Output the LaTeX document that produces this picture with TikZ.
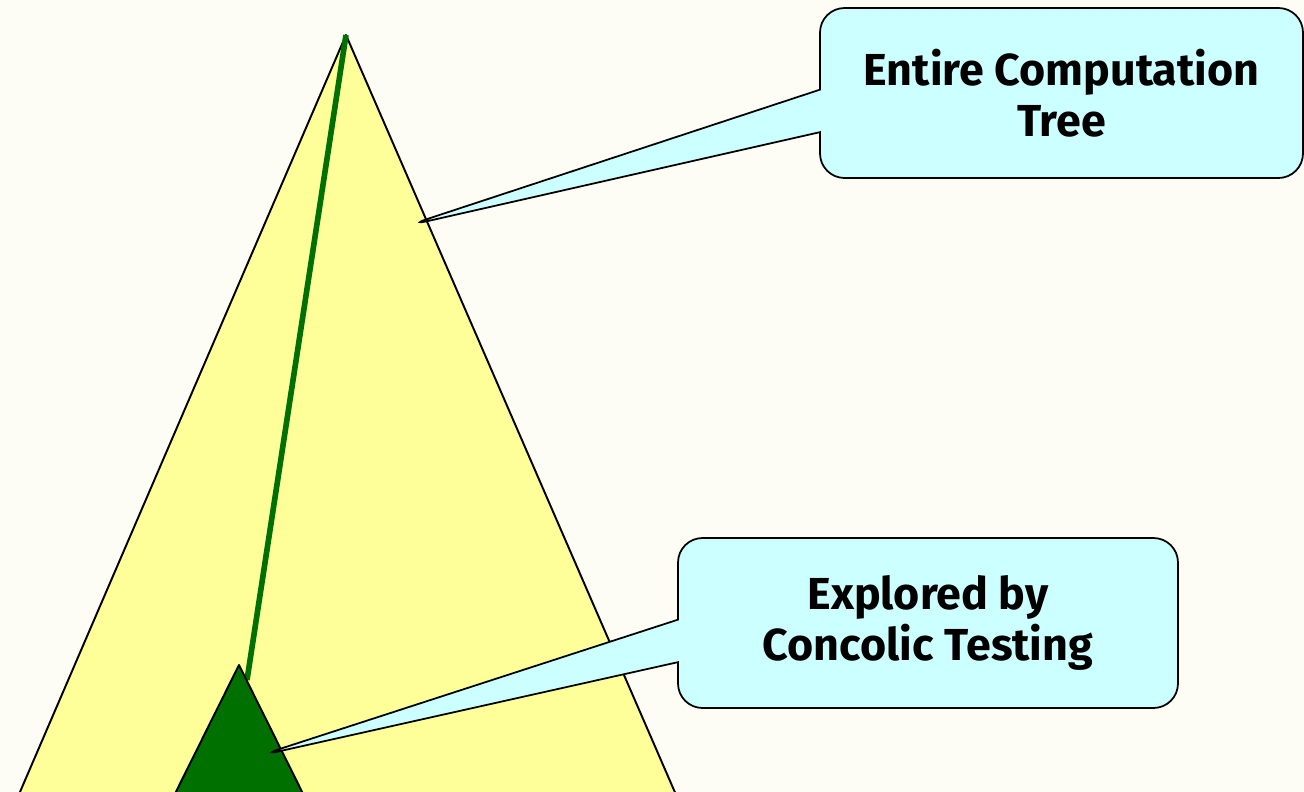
\documentclass[tikz,border=0pt]{standalone}
\usepackage{fontspec}
\setsansfont{Fira Sans}
\usetikzlibrary{positioning, shapes.callouts}
\definecolor{paper}{RGB}{253, 253, 246}
\definecolor{treefill}{RGB}{255, 255, 153}
\definecolor{explored}{RGB}{0, 112, 0}
\definecolor{bubble}{RGB}{204, 255, 255}

\begin{document}
\begin{tikzpicture}[
    treebox/.style={
        draw=black,
        line width=1.1pt,
        line join=round,
        fill=#1
    },
    treebox/.default=treefill,
    callbox/.style={
        rectangle callout,
        draw=black,
        line width=1pt,
        fill=bubble,
        rounded corners=14pt,
        align=center,
        font=\sffamily\bfseries\fontsize{25.5}{29}\selectfont,
        minimum height=3.4cm,
        callout pointer width=0.85cm
    },
    pathline/.style={draw=explored, line width=3.2pt}
]

% === Canvas ===
\fill[paper] (0,0) rectangle (26.08,-15.84);
\useasboundingbox (0,0) rectangle (26.08,-15.84);
\clip (0,0) rectangle (26.08,-15.84);

% === Entire Tree ===
\coordinate (top) at (6.92,-0.70);
\path[treebox] (top) -- (-0.10,-17) -- (14.00,-17) -- cycle;

% === Explored Path ===
\coordinate (sub) at (4.78,-13.30);
\draw[pathline] (top) -- (4.94,-13.60);
\path[treebox=explored] (sub) -- (2.94,-17) -- (6.62,-17) -- cycle;

% === Callouts ===
\coordinate (treetip) at (8.12,-4.52);
\coordinate (subtip) at (5.16,-15.12);
\node[callbox, minimum width=9.66cm, callout absolute pointer={(treetip)}]
    (treelbl) at (21.23,-1.86) {Entire Computation\\Tree};
\node[callbox, minimum width=10cm, callout absolute pointer={(subtip)}]
    (sublbl) at (18.56,-12.46) {Explored by\\Concolic Testing};

\end{tikzpicture}
\end{document}
